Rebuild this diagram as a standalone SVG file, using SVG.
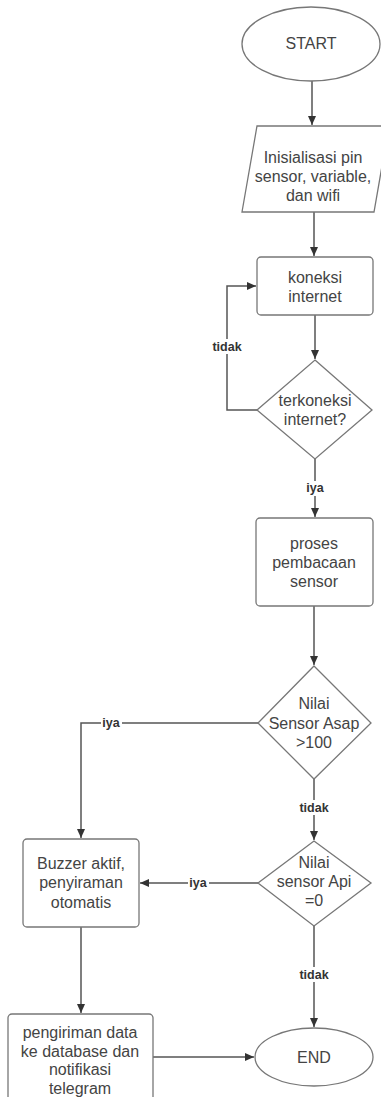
<svg xmlns="http://www.w3.org/2000/svg" width="381" height="1097" viewBox="0 0 381 1097">
<defs>
<marker id="arr" markerWidth="10" markerHeight="10" refX="9" refY="5" orient="auto" markerUnits="userSpaceOnUse">
<path d="M0,1 L9,5 L0,9 Z" fill="#333"/>
</marker>
<style>
.shape{fill:#fff;stroke:#777;stroke-width:1.3}
.t{font-family:"Liberation Sans",Arial,sans-serif;font-size:16px;fill:#444;text-anchor:middle}
.c{fill:none;stroke:#555;stroke-width:1.5}
.lbl{font-family:"Liberation Sans",Arial,sans-serif;font-size:12.5px;font-weight:bold;fill:#333;text-anchor:middle}
.lb{fill:#fff}
</style>
</defs>
<rect width="381" height="1097" fill="#fff"/>
<g id="connectors">
<path class="c" d="M312,81 V125" marker-end="url(#arr)"/>
<path class="c" d="M314,212 V256" marker-end="url(#arr)"/>
<path class="c" d="M315,315 V359" marker-end="url(#arr)"/>
<path class="c" d="M257,410 H227 V286 H256" marker-end="url(#arr)"/>
<path class="c" d="M315,459 V517" marker-end="url(#arr)"/>
<path class="c" d="M314,606 V665" marker-end="url(#arr)"/>
<path class="c" d="M258,723 H81 V838" marker-end="url(#arr)"/>
<path class="c" d="M314,779 V840" marker-end="url(#arr)"/>
<path class="c" d="M258,883 H140" marker-end="url(#arr)"/>
<path class="c" d="M314,926 V1027" marker-end="url(#arr)"/>
<path class="c" d="M81,927 V1013" marker-end="url(#arr)"/>
<path class="c" d="M153,1057 H254" marker-end="url(#arr)"/>
<rect class="lb" x="212" y="339" width="30" height="15"/>
<text class="lbl" x="227" y="351">tidak</text>
<rect class="lb" x="304" y="481" width="21" height="15"/>
<text class="lbl" x="315" y="492">iya</text>
<rect class="lb" x="101" y="716" width="21" height="15"/>
<text class="lbl" x="111" y="727">iya</text>
<rect class="lb" x="299" y="800" width="30" height="15"/>
<text class="lbl" x="314" y="812">tidak</text>
<rect class="lb" x="188" y="876" width="21" height="15"/>
<text class="lbl" x="198" y="887">iya</text>
<rect class="lb" x="299" y="967" width="30" height="15"/>
<text class="lbl" x="314" y="979">tidak</text>
</g>
<g id="start">
<ellipse class="shape" cx="311" cy="44" rx="69" ry="37"/>
<text class="t" x="311" y="49">START</text>
</g>
<g id="init">
<path class="shape" d="M257,126 H389 L374,212 H242 Z"/>
<text class="t" x="313" y="163">Inisialisasi pin</text>
<text class="t" x="313" y="182">sensor, variable,</text>
<text class="t" x="313" y="201">dan wifi</text>
</g>
<g id="koneksi">
<rect class="shape" x="257" y="257" width="116" height="58" rx="4"/>
<text class="t" x="315" y="283">koneksi</text>
<text class="t" x="315" y="302">internet</text>
</g>
<g id="cek-koneksi">
<path class="shape" d="M315,360 L372,410 L315,459 L257,410 Z"/>
<text class="t" x="315" y="406">terkoneksi</text>
<text class="t" x="315" y="425">internet?</text>
</g>
<g id="baca-sensor">
<rect class="shape" x="256" y="518" width="117" height="88" rx="4"/>
<text class="t" x="314" y="549">proses</text>
<text class="t" x="314" y="568">pembacaan</text>
<text class="t" x="314" y="587">sensor</text>
</g>
<g id="cek-asap">
<path class="shape" d="M314,666 L371,723 L314,779 L258,723 Z"/>
<text class="t" x="314" y="709">Nilai</text>
<text class="t" x="314" y="729">Sensor Asap</text>
<text class="t" x="314" y="748">&gt;100</text>
</g>
<g id="cek-api">
<path class="shape" d="M314,841 L371,883 L314,926 L258,883 Z"/>
<text class="t" x="314" y="868">Nilai</text>
<text class="t" x="314" y="887">sensor Api</text>
<text class="t" x="314" y="906">=0</text>
</g>
<g id="buzzer">
<rect class="shape" x="23" y="839" width="116" height="88" rx="4"/>
<text class="t" x="81" y="869">Buzzer aktif,</text>
<text class="t" x="81" y="888">penyiraman</text>
<text class="t" x="81" y="908">otomatis</text>
</g>
<g id="kirim">
<rect class="shape" x="8" y="1014" width="145" height="100" rx="4"/>
<text class="t" x="80" y="1038">pengiriman data</text>
<text class="t" x="80" y="1057">ke database dan</text>
<text class="t" x="80" y="1075">notifikasi</text>
<text class="t" x="80" y="1094">telegram</text>
</g>
<g id="end">
<ellipse class="shape" cx="314" cy="1057" rx="59" ry="29"/>
<text class="t" x="314" y="1063">END</text>
</g>
</svg>
